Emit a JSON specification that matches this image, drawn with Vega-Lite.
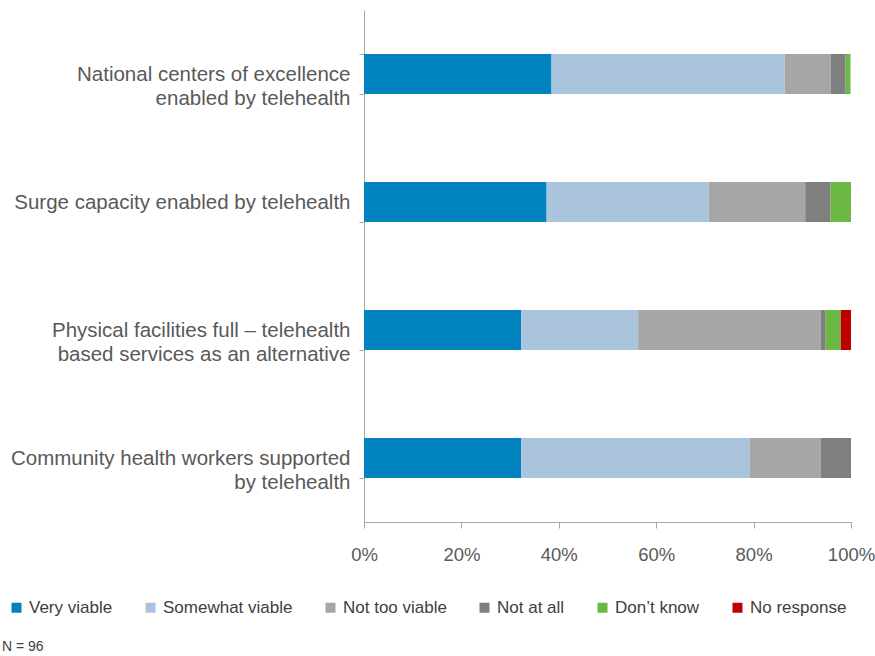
{
  "$schema": "https://vega.github.io/schema/vega-lite/v6.json",
  "width": 487,
  "height": 512,
  "autosize": "none",
  "padding": {"left": 364, "top": 10, "right": 24, "bottom": 134},
  "background": "white",
  "config": {
    "view": {"stroke": null},
    "font": "Liberation Sans, sans-serif"
  },
  "title": {
    "text": "N = 96",
    "orient": "bottom",
    "anchor": "start",
    "frame": "group",
    "dx": -362,
    "dy": 20,
    "fontSize": 14,
    "fontWeight": "normal",
    "color": "#404040",
    "font": "Liberation Sans, sans-serif"
  },
  "data": {
    "values": [
      {"item": "National centers of excellence|enabled by telehealth", "order": 1, "resp": "Very viable", "ro": 1, "pct": 38.5},
      {"item": "National centers of excellence|enabled by telehealth", "order": 1, "resp": "Somewhat viable", "ro": 2, "pct": 47.9},
      {"item": "National centers of excellence|enabled by telehealth", "order": 1, "resp": "Not too viable", "ro": 3, "pct": 9.4},
      {"item": "National centers of excellence|enabled by telehealth", "order": 1, "resp": "Not at all", "ro": 4, "pct": 3.1},
      {"item": "National centers of excellence|enabled by telehealth", "order": 1, "resp": "Don’t know", "ro": 5, "pct": 1.0},
      {"item": "Surge capacity enabled by telehealth", "order": 2, "resp": "Very viable", "ro": 1, "pct": 37.5},
      {"item": "Surge capacity enabled by telehealth", "order": 2, "resp": "Somewhat viable", "ro": 2, "pct": 33.3},
      {"item": "Surge capacity enabled by telehealth", "order": 2, "resp": "Not too viable", "ro": 3, "pct": 19.8},
      {"item": "Surge capacity enabled by telehealth", "order": 2, "resp": "Not at all", "ro": 4, "pct": 5.2},
      {"item": "Surge capacity enabled by telehealth", "order": 2, "resp": "Don’t know", "ro": 5, "pct": 4.2},
      {"item": "Physical facilities full – telehealth|based services as an alternative", "order": 3, "resp": "Very viable", "ro": 1, "pct": 32.3},
      {"item": "Physical facilities full – telehealth|based services as an alternative", "order": 3, "resp": "Somewhat viable", "ro": 2, "pct": 24.0},
      {"item": "Physical facilities full – telehealth|based services as an alternative", "order": 3, "resp": "Not too viable", "ro": 3, "pct": 37.5},
      {"item": "Physical facilities full – telehealth|based services as an alternative", "order": 3, "resp": "Not at all", "ro": 4, "pct": 1.0},
      {"item": "Physical facilities full – telehealth|based services as an alternative", "order": 3, "resp": "Don’t know", "ro": 5, "pct": 3.1},
      {"item": "Physical facilities full – telehealth|based services as an alternative", "order": 3, "resp": "No response", "ro": 6, "pct": 2.1},
      {"item": "Community health workers supported|by telehealth", "order": 4, "resp": "Very viable", "ro": 1, "pct": 32.3},
      {"item": "Community health workers supported|by telehealth", "order": 4, "resp": "Somewhat viable", "ro": 2, "pct": 46.9},
      {"item": "Community health workers supported|by telehealth", "order": 4, "resp": "Not too viable", "ro": 3, "pct": 14.6},
      {"item": "Community health workers supported|by telehealth", "order": 4, "resp": "Not at all", "ro": 4, "pct": 6.2}
    ]
  },
  "mark": {"type": "bar"},
  "encoding": {
    "y": {
      "field": "item",
      "type": "nominal",
      "sort": {"field": "order", "op": "min"},
      "scale": {"paddingInner": 0.6875, "paddingOuter": 0.34375},
      "axis": {
        "title": null,
        "labelExpr": "split(datum.label, '|')",
        "labelFontSize": 20.5,
        "labelColor": "#595959",
        "labelLineHeight": 24,
        "labelPadding": 9,
        "labelLimit": 400,
        "tickBand": "extent",
        "tickSize": 5,
        "tickColor": "#A6A6A6",
        "domainColor": "#A6A6A6"
      }
    },
    "x": {
      "field": "pct",
      "type": "quantitative",
      "stack": "zero",
      "scale": {"domain": [0, 100]},
      "axis": {
        "title": null,
        "values": [0, 20, 40, 60, 80, 100],
        "labelExpr": "datum.value + '%'",
        "labelFlush": false,
        "grid": false,
        "labelFontSize": 18.5,
        "labelColor": "#595959",
        "labelPadding": 17,
        "tickSize": 6,
        "tickColor": "#A6A6A6",
        "domainColor": "#A6A6A6"
      }
    },
    "color": {
      "field": "resp",
      "type": "nominal",
      "scale": {
        "domain": ["Very viable", "Somewhat viable", "Not too viable", "Not at all", "Don’t know", "No response"],
        "range": ["#0083BE", "#A9C4DC", "#A6A6A6", "#7F7F7F", "#6BB944", "#C00000"]
      },
      "legend": {
        "title": null,
        "orient": "none",
        "direction": "horizontal",
        "legendX": -356,
        "legendY": 589,
        "symbolType": "square",
        "symbolSize": 100,
        "symbolStrokeWidth": 0,
        "labelFontSize": 17,
        "labelColor": "#404040",
        "labelOffset": 4,
        "columnPadding": 29,
        "labelLimit": 300
      }
    },
    "order": {"field": "ro", "type": "quantitative"}
  }
}
